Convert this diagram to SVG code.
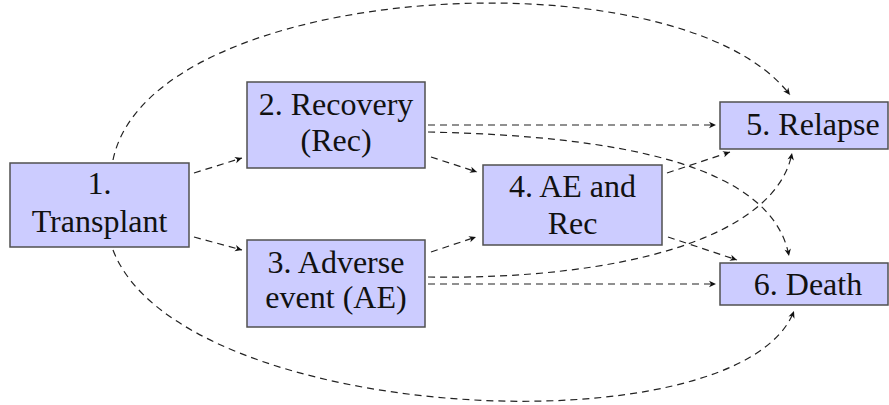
<svg xmlns="http://www.w3.org/2000/svg" width="889" height="405" viewBox="0 0 889 405">
  <defs>
    <marker id="arrow" viewBox="-8 -4 9 8" refX="0" refY="0" markerWidth="9" markerHeight="8" markerUnits="userSpaceOnUse" orient="auto">
      <path d="M0,0 L-7,-3.2 L-5,0 L-7,3.2 Z" fill="#111"/>
    </marker>
    <style>
      .box { fill: #ccccff; stroke: #505050; stroke-width: 1.5; }
      .lbl { font-family: "Liberation Serif", "DejaVu Serif", serif; font-size: 32px; fill: #111; text-anchor: middle; }
      .edge { fill: none; stroke: #222; stroke-width: 1.2; stroke-dasharray: 7 5; marker-end: url(#arrow); }
    </style>
  </defs>
  <rect width="889" height="405" fill="#ffffff"/>

  <g id="connectors">
    <!-- 1 -> 2, 1 -> 3 -->
    <path class="edge" d="M194,173 L242,158"/>
    <path class="edge" d="M194,237 L242,250"/>
    <!-- 2 -> 4, 3 -> 4 -->
    <path class="edge" d="M431,157 L477,172"/>
    <path class="edge" d="M431,252 L476,237"/>
    <!-- 2 -> 5, 3 -> 6 -->
    <path class="edge" d="M428,125 L716,125"/>
    <path class="edge" d="M428,284 L716,284"/>
    <!-- 4 -> 5, 4 -> 6 -->
    <path class="edge" d="M667,173 L730,152"/>
    <path class="edge" d="M668,237 L737,260"/>
    <!-- 2 -> 6, 3 -> 5 -->
    <path class="edge" d="M428,132 C620,136 772,165 789,256"/>
    <path class="edge" d="M428,277 C620,280 776,238 792,153"/>
    <!-- 1 -> 5 (over the top), 1 -> 6 (under the bottom) -->
    <path class="edge" d="M113,160 C150,-20 680,-50 790,95"/>
    <path class="edge" d="M113,250 C180,425 740,452 794,311"/>
  </g>

  <g id="node1">
    <rect class="box" x="10" y="163" width="179" height="84"/>
    <text class="lbl" x="99.5" y="194">1.</text>
    <text class="lbl" x="99.5" y="232">Transplant</text>
  </g>
  <g id="node2">
    <rect class="box" x="247" y="82" width="178" height="86"/>
    <text class="lbl" x="336" y="115">2. Recovery</text>
    <text class="lbl" x="336" y="151">(Rec)</text>
  </g>
  <g id="node3">
    <rect class="box" x="247" y="240" width="178" height="87"/>
    <text class="lbl" x="336" y="273">3. Adverse</text>
    <text class="lbl" x="336" y="308">event (AE)</text>
  </g>
  <g id="node4">
    <rect class="box" x="483" y="165" width="179" height="80"/>
    <text class="lbl" x="572.5" y="197">4. AE and</text>
    <text class="lbl" x="572.5" y="234">Rec</text>
  </g>
  <g id="node5">
    <rect class="box" x="720" y="102" width="168" height="47"/>
    <text class="lbl" x="813" y="135">5. Relapse</text>
  </g>
  <g id="node6">
    <rect class="box" x="720" y="263" width="168" height="42"/>
    <text class="lbl" x="808" y="295">6. Death</text>
  </g>
</svg>
